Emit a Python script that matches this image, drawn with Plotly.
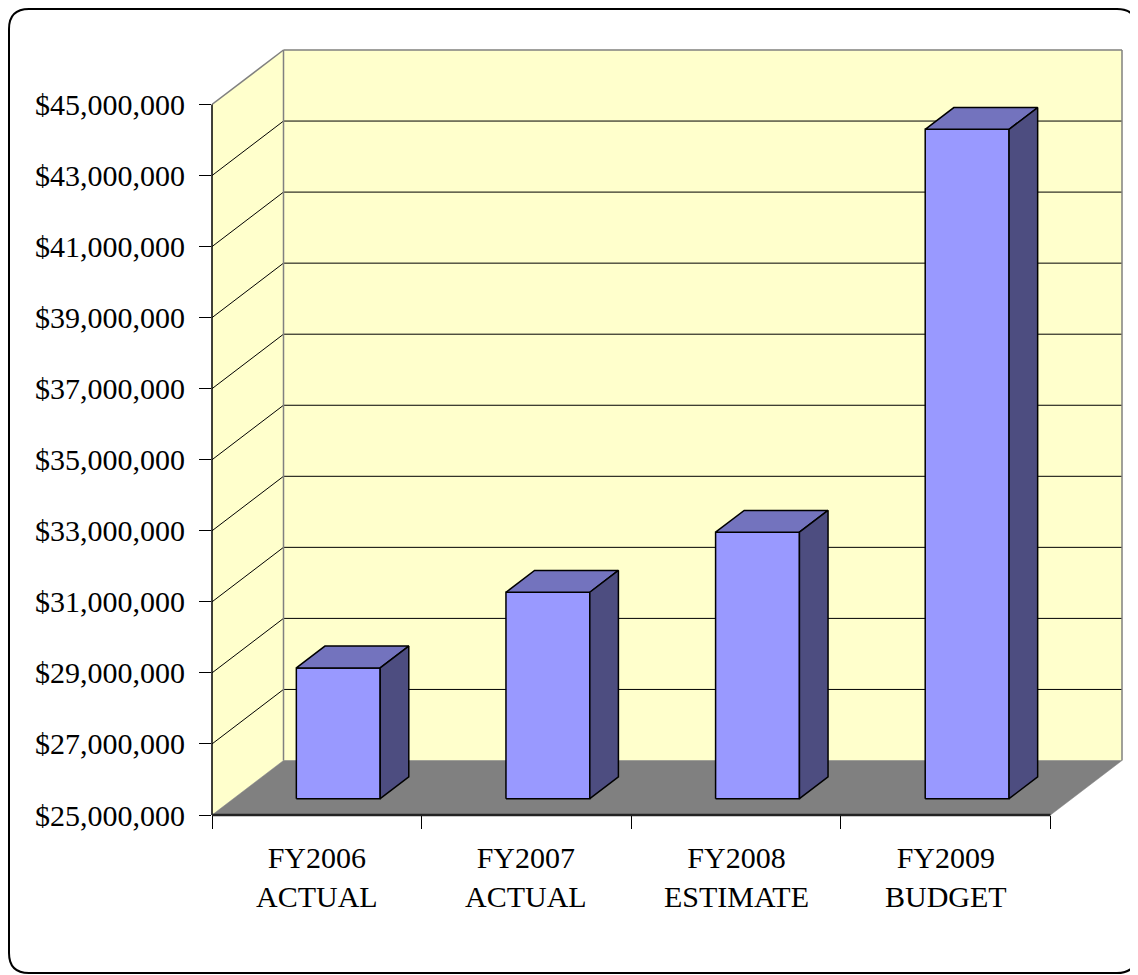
import plotly.graph_objects as go

# ---------------- data ----------------
categories = ["FY2006<br>ACTUAL", "FY2007<br>ACTUAL", "FY2008<br>ESTIMATE", "FY2009<br>BUDGET"]
values = [28_680_000, 30_810_000, 32_500_000, 43_840_000]
y_tick_values = list(range(25_000_000, 45_000_001, 2_000_000))
y_tick_labels = ["${:,}".format(v) for v in y_tick_values]

# ---------------- geometry / style ----------------
PAGE_OFF = 8  # default body margin of the html page
FIG_W, FIG_H = 1138 - PAGE_OFF, 975 - PAGE_OFF
L, T = 212 - PAGE_OFF, 47 - PAGE_OFF
PW = 913
PH = 768
R = FIG_W - L - PW
B = FIG_H - T - PH
DEPTH_X_PX, DEPTH_Y_PX = 71.5, 54.5
PAD_PX = 3
FONT = "Liberation Serif, Times New Roman, serif"

n = len(categories)
Y_MIN, Y_MAX = y_tick_values[0], y_tick_values[-1]
cat_px = (PW - PAD_PX - DEPTH_X_PX) / n
DX = DEPTH_X_PX / cat_px
val_px = (PH - PAD_PX - DEPTH_Y_PX) / (Y_MAX - Y_MIN)
DY = DEPTH_Y_PX / val_px
x_range = [0, PW / cat_px]
y_range = [Y_MIN, Y_MIN + PH / val_px]

WALL = "#FFFFCC"
FLOOR = "#808080"
FRONT = "#9999FF"
TOP = "#7373BE"
SIDE = "#4D4D80"
EDGE = "#808080"

fig = go.Figure()


def poly(xs, ys, fill, lc="black", lw=0):
    fig.add_trace(go.Scatter(
        x=list(xs) + [xs[0]], y=list(ys) + [ys[0]], mode="lines",
        fill="toself", fillcolor=fill,
        line=dict(color=lc if lw else fill, width=lw if lw else 0.5),
        hoverinfo="skip", showlegend=False))


def lines(segs, color, width):
    xs, ys = [], []
    for (xa, ya), (xb, yb) in segs:
        xs += [xa, xb, None]
        ys += [ya, yb, None]
    fig.add_trace(go.Scatter(x=xs, y=ys, mode="lines",
                             line=dict(color=color, width=width),
                             hoverinfo="skip", showlegend=False))


# walls and floor
poly([DX, n + DX, n + DX, DX], [Y_MIN + DY, Y_MIN + DY, Y_MAX + DY, Y_MAX + DY], WALL)
poly([0, DX, DX, 0], [Y_MIN, Y_MIN + DY, Y_MAX + DY, Y_MAX], WALL)
poly([0, n, n + DX, DX], [Y_MIN, Y_MIN, Y_MIN + DY, Y_MIN + DY], FLOOR)

# gridlines
grid = []
for v in y_tick_values[1:-1]:
    grid.append(((DX, v + DY), (n + DX, v + DY)))
    grid.append(((0, v), (DX, v + DY)))
lines(grid, "black", 1)

# wall edges
lines([((DX, Y_MIN + DY), (DX, Y_MAX + DY)),
       ((DX, Y_MAX + DY), (n + DX, Y_MAX + DY)),
       ((n + DX, Y_MAX + DY), (n + DX, Y_MIN + DY)),
       ((0, Y_MAX), (DX, Y_MAX + DY))], EDGE, 1.5)

# bars
W0, W1 = 0.3, 0.7   # bar span within category
D0, D1 = 0.3, 0.7   # bar depth span
for i, v in enumerate(values):
    xa, xb = i + W0, i + W1
    fx, fy = D0 * DX, D0 * DY
    bx, by = D1 * DX, D1 * DY
    poly([xa + fx, xb + fx, xb + fx, xa + fx], [Y_MIN + fy, Y_MIN + fy, v + fy, v + fy], FRONT, "black", 1.5)
    poly([xa + fx, xb + fx, xb + bx, xa + bx], [v + fy, v + fy, v + by, v + by], TOP, "black", 1.5)
    poly([xb + fx, xb + bx, xb + bx, xb + fx], [Y_MIN + fy, Y_MIN + by, v + by, v + fy], SIDE, "black", 1.5)


def py(v):
    return (v - y_range[0]) / (y_range[1] - y_range[0])


def fig_x(page_px):
    return max(page_px - PAGE_OFF, 1)


def fig_y(page_px):
    return max(page_px - PAGE_OFF, 1)


def ppx(fx):
    return (fx - L) / PW


def ppy(fy):
    return (T + PH - fy) / PH


# category labels
for i, c in enumerate(categories):
    fig.add_annotation(x=i + 0.5, xref="x", y=ppy(fig_y(877)), yref="paper",
                       text=c, showarrow=False, yanchor="middle", xanchor="center",
                       font=dict(family=FONT, size=30, color="black"))

shapes = [
    dict(type="line", xref="paper", yref="paper", x0=0, x1=0, y0=0, y1=py(Y_MAX),
         line=dict(color="black", width=1.5)),
    dict(type="line", xref="paper", yref="paper", x0=0, x1=n / x_range[1], y0=0, y1=0,
         line=dict(color="#222222", width=2.5)),
]

# rounded frame
X0, X1 = ppx(fig_x(6)), ppx(min(fig_x(1137), FIG_W - 1))
Y0, Y1 = ppy(fig_y(5)), ppy(min(fig_y(973), FIG_H - 1))
rad = 20
rx, ry = rad / PW, rad / PH
path = (f"M {X0 + rx},{Y0} L {X1 - rx},{Y0} Q {X1},{Y0} {X1},{Y0 - ry} "
        f"L {X1},{Y1 + ry} Q {X1},{Y1} {X1 - rx},{Y1} "
        f"L {X0 + rx},{Y1} Q {X0},{Y1} {X0},{Y1 + ry} "
        f"L {X0},{Y0 - ry} Q {X0},{Y0} {X0 + rx},{Y0} Z")
shapes.append(dict(type="path", xref="paper", yref="paper", path=path,
                   line=dict(color="black", width=2), fillcolor="rgba(0,0,0,0)"))

fig.update_layout(
    width=FIG_W, height=FIG_H,
    margin=dict(l=L, r=R, t=T, b=B, pad=0),
    paper_bgcolor="white", plot_bgcolor="white",
    showlegend=False,
    shapes=shapes,
    xaxis=dict(range=x_range, showgrid=False, zeroline=False, showline=False,
               tickvals=list(range(n + 1)), ticktext=[""] * (n + 1),
               ticks="outside", ticklen=13, tickcolor="black", tickwidth=1, fixedrange=True),
    yaxis=dict(range=y_range, showgrid=False, zeroline=False, showline=False,
               tickvals=y_tick_values, ticktext=y_tick_labels,
               ticks="outside", ticklen=12, tickcolor="black", tickwidth=1,
               ticklabelstandoff=8,
               tickfont=dict(family=FONT, size=30, color="black"), fixedrange=True),
)

fig.write_html("out.html")
